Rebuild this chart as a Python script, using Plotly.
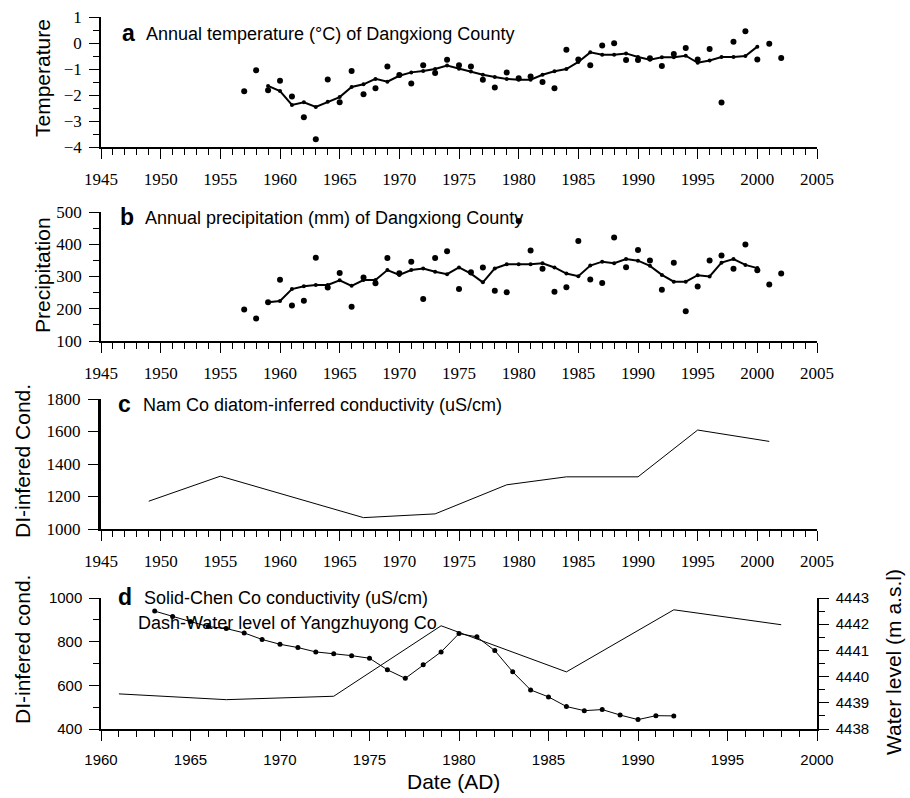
import plotly.graph_objects as go

# ---- a: annual temperature, Dangxiong County ----
temp_years = list(range(1957, 2003))
temp_values = [-1.86, -1.05, -1.82, -1.45, -2.06, -2.86, -3.70, -1.40, -2.28, -1.08,
               -1.97, -1.74, -0.90, -1.23, -1.56, -0.86, -1.15, -0.64, -0.86, -0.90,
               -1.41, -1.71, -1.13, -1.36, -1.29, -1.50, -1.74, -0.26, -0.63, -0.86,
               -0.10, -0.01, -0.65, -0.65, -0.59, -0.88, -0.42, -0.19, -0.63, -0.23,
               -2.29, 0.05, 0.45, -0.63, -0.03, -0.58]
temp_smooth_years = list(range(1959, 2001))
temp_smooth = [-1.65, -1.85, -2.38, -2.28, -2.46, -2.26, -2.08, -1.69, -1.59, -1.38,
               -1.49, -1.26, -1.13, -1.08, -1.00, -0.87, -0.99, -1.10, -1.22, -1.31,
               -1.38, -1.41, -1.41, -1.22, -1.09, -1.00, -0.73, -0.36, -0.45, -0.45,
               -0.40, -0.54, -0.64, -0.55, -0.55, -0.49, -0.76, -0.67, -0.54, -0.54,
               -0.50, -0.14]

# ---- b: annual precipitation, Dangxiong County ----
prec_years = list(range(1957, 2003))
prec_values = [198, 170, 220, 290, 210, 225, 358, 266, 311, 206,
               297, 279, 357, 310, 346, 230, 357, 378, 261, 313,
               328, 256, 251, 472, 381, 324, 253, 267, 410, 291,
               280, 421, 329, 382, 350, 259, 343, 192, 269, 350,
               365, 324, 399, 319, 275, 309]
prec_smooth_years = list(range(1959, 2001))
prec_smooth = [220, 224, 261, 270, 274, 274, 288, 271, 289, 289,
               320, 305, 320, 325, 315, 307, 328, 309, 282, 325,
               338, 338, 338, 341, 328, 309, 301, 334, 346, 341,
               354, 349, 333, 305, 284, 284, 304, 300, 343, 354,
               336, 326]

# ---- c: Nam Co diatom-inferred conductivity ----
namco_years = [1949, 1955, 1967, 1973, 1979, 1984, 1990, 1995, 2001]
namco_cond = [1171, 1325, 1070, 1093, 1272, 1321, 1321, 1609, 1539]

# ---- d: Chen Co conductivity and Yangzhuyong Co water level ----
chenco_years = list(range(1963, 1993))
chenco_cond = [940, 915, 892, 869, 860, 840, 810, 788, 773, 753,
               745, 736, 724, 671, 632, 694, 753, 837, 822, 759,
               662, 579, 547, 503, 484, 489, 464, 443, 461, 460]
level_years = [1961, 1967, 1973, 1979, 1986, 1992, 1998]
level_values = [4439.34, 4439.12, 4439.25, 4441.94, 4440.18, 4442.55, 4441.98]

W, H = 910, 798
BLACK = "black"
SERIF = "Liberation Serif"
SANS = "Liberation Sans"


def px_x(p):
    return p / W


def px_y(p):
    return 1 - p / H


fig = go.Figure()

# panel a
fig.add_trace(go.Scatter(x=temp_years, y=temp_values, mode="markers",
                         marker=dict(color=BLACK, size=6), xaxis="x", yaxis="y",
                         showlegend=False))
fig.add_trace(go.Scatter(x=temp_smooth_years, y=temp_smooth, mode="lines+markers",
                         line=dict(color=BLACK, width=2), marker=dict(color=BLACK, size=4),
                         xaxis="x", yaxis="y", showlegend=False))
# panel b
fig.add_trace(go.Scatter(x=prec_years, y=prec_values, mode="markers",
                         marker=dict(color=BLACK, size=6), xaxis="x2", yaxis="y2",
                         showlegend=False))
fig.add_trace(go.Scatter(x=prec_smooth_years, y=prec_smooth, mode="lines+markers",
                         line=dict(color=BLACK, width=2), marker=dict(color=BLACK, size=4),
                         xaxis="x2", yaxis="y2", showlegend=False))
# panel c
fig.add_trace(go.Scatter(x=namco_years, y=namco_cond, mode="lines",
                         line=dict(color=BLACK, width=1), xaxis="x3", yaxis="y3",
                         showlegend=False))
# panel d
fig.add_trace(go.Scatter(x=chenco_years, y=chenco_cond, mode="lines+markers",
                         line=dict(color=BLACK, width=1), marker=dict(color=BLACK, size=5),
                         xaxis="x4", yaxis="y4", showlegend=False))
fig.add_trace(go.Scatter(x=level_years, y=level_values, mode="lines",
                         line=dict(color=BLACK, width=1), xaxis="x4", yaxis="y5",
                         showlegend=False))

xdom = [px_x(101), px_x(817)]


def xaxis(anchor, rng, font, size):
    return dict(domain=xdom, anchor=anchor, range=rng, tick0=rng[0], dtick=5,
                automargin=False,
                showgrid=False, zeroline=False, showline=True, linecolor=BLACK,
                linewidth=1.5, ticks="outside", ticklen=10, tickwidth=1, tickcolor=BLACK,
                minor=dict(dtick=1, ticks="outside", ticklen=6, tickwidth=1, tickcolor=BLACK),
                tickfont=dict(family=font, size=size, color=BLACK),
                ticklabelstandoff=6)


def yaxis(anchor, dom, rng, dtick, minor, font, size, lw=1.5, side="left"):
    d = dict(domain=dom, anchor=anchor, range=rng, tick0=rng[0], dtick=dtick,
             automargin=False,
             showgrid=False, zeroline=False, showline=True, linecolor=BLACK,
             linewidth=lw, ticks="outside", ticklen=10, tickwidth=1, tickcolor=BLACK,
             tickfont=dict(family=font, size=size, color=BLACK), side=side,
             ticklabelstandoff=4)
    if minor:
        d["minor"] = dict(dtick=minor, ticks="outside", ticklen=6, tickwidth=1,
                          tickcolor=BLACK)
    return d


fig.update_layout(
    width=W, height=H,
    margin=dict(l=0, r=0, t=0, b=0),
    paper_bgcolor="white", plot_bgcolor="white",
    xaxis=xaxis("y", [1945, 2005], SERIF, 17),
    yaxis=yaxis("x", [px_y(147), px_y(17)], [-4, 1], 1, 0.5, SERIF, 17),
    xaxis2=xaxis("y2", [1945, 2005], SERIF, 17),
    yaxis2=yaxis("x2", [px_y(341), px_y(212)], [100, 500], 100, 50, SERIF, 17),
    xaxis3=xaxis("y3", [1945, 2005], SERIF, 17),
    yaxis3=yaxis("x3", [px_y(529), px_y(399)], [1000, 1800], 200, None, SERIF, 17, lw=3),
    xaxis4=xaxis("y4", [1960, 2000], SANS, 15),
    yaxis4=yaxis("x4", [px_y(729), px_y(598)], [400, 1000], 200, 100, SANS, 15),
    yaxis5=dict(yaxis("x4", [px_y(729), px_y(598)], [4438, 4443], 1, 0.5, SANS, 15,
                      side="right"), overlaying="y4"),
)

ann = []


def label(x, y, text, size, angle=0, font=SANS, xanchor="center", bold=False):
    t = f"<b>{text}</b>" if bold else text
    ann.append(dict(x=px_x(x), y=px_y(y), xref="paper", yref="paper", text=t,
                    showarrow=False, textangle=angle, xanchor=xanchor, yanchor="middle",
                    font=dict(family=font, size=size, color=BLACK)))


# panel letters and captions
label(120, 33, "a", 23, xanchor="left", bold=True)
label(144, 34, "Annual temperature (°C) of Dangxiong County", 18, xanchor="left")
label(118, 217, "b", 23, xanchor="left", bold=True)
label(143, 218, "Annual precipitation (mm) of Dangxiong County", 18, xanchor="left")
label(116, 404, "c", 23, xanchor="left", bold=True)
label(141, 405, "Nam Co diatom-inferred conductivity (uS/cm)", 18, xanchor="left")
label(116, 597, "d", 23, xanchor="left", bold=True)
label(142, 598, "Solid-Chen Co conductivity (uS/cm)", 18, xanchor="left")
label(136, 623, "Dash-Water level of Yangzhuyong Co", 18, xanchor="left")

# axis titles
label(42, 78, "Temperature", 21, angle=-90)
label(42, 275, "Precipitation", 21, angle=-90)
label(22, 461, "DI-infered Cond.", 21, angle=-90)
label(22, 650, "DI-infered cond.", 21, angle=-90)
label(893, 662, "Water level (m a.s.l)", 21, angle=-90)
label(453, 781, "Date (AD)", 21)

fig.update_layout(annotations=ann)

fig.write_html("out.html")
